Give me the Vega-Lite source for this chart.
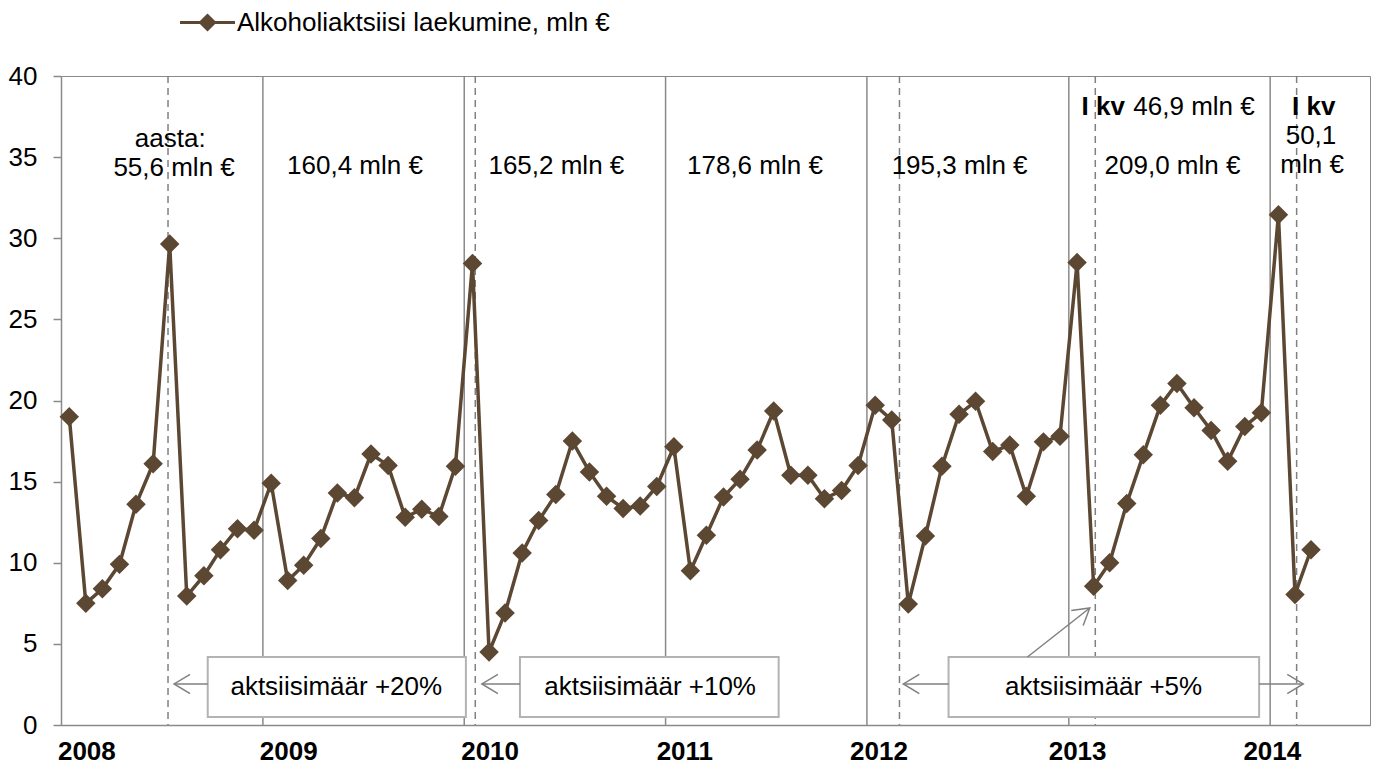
{
  "$schema": "https://vega.github.io/schema/vega-lite/v6.json",
  "width": 1309,
  "height": 649,
  "autosize": {"type": "none"},
  "padding": {"left": 61, "top": 76, "right": 9, "bottom": 49},
  "background": "white",
  "config": {
    "font": "Liberation Sans",
    "view": {"stroke": "#8a8a8a", "strokeWidth": 1},
    "text": {"font": "Liberation Sans", "fontSize": 26, "color": "#000000"}
  },
  "datasets": {
    "series": [
      {"month": "2008-01-16", "value": 19.0},
      {"month": "2008-02-15", "value": 7.5},
      {"month": "2008-03-16", "value": 8.4},
      {"month": "2008-04-16", "value": 9.9},
      {"month": "2008-05-16", "value": 13.6},
      {"month": "2008-06-16", "value": 16.1},
      {"month": "2008-07-16", "value": 29.65},
      {"month": "2008-08-16", "value": 7.95},
      {"month": "2008-09-16", "value": 9.2},
      {"month": "2008-10-16", "value": 10.8},
      {"month": "2008-11-16", "value": 12.1},
      {"month": "2008-12-16", "value": 12.0},
      {"month": "2009-01-16", "value": 14.9},
      {"month": "2009-02-15", "value": 8.9},
      {"month": "2009-03-16", "value": 9.85},
      {"month": "2009-04-16", "value": 11.5},
      {"month": "2009-05-16", "value": 14.3},
      {"month": "2009-06-16", "value": 14.0},
      {"month": "2009-07-16", "value": 16.7},
      {"month": "2009-08-16", "value": 16.0},
      {"month": "2009-09-16", "value": 12.8},
      {"month": "2009-10-16", "value": 13.3},
      {"month": "2009-11-16", "value": 12.85},
      {"month": "2009-12-16", "value": 15.95},
      {"month": "2010-01-16", "value": 28.45},
      {"month": "2010-02-15", "value": 4.5},
      {"month": "2010-03-16", "value": 6.9},
      {"month": "2010-04-16", "value": 10.6},
      {"month": "2010-05-16", "value": 12.6},
      {"month": "2010-06-16", "value": 14.2},
      {"month": "2010-07-16", "value": 17.5},
      {"month": "2010-08-16", "value": 15.6},
      {"month": "2010-09-16", "value": 14.1},
      {"month": "2010-10-16", "value": 13.35},
      {"month": "2010-11-16", "value": 13.5},
      {"month": "2010-12-16", "value": 14.7},
      {"month": "2011-01-16", "value": 17.15},
      {"month": "2011-02-15", "value": 9.5},
      {"month": "2011-03-16", "value": 11.7},
      {"month": "2011-04-16", "value": 14.05},
      {"month": "2011-05-16", "value": 15.15},
      {"month": "2011-06-16", "value": 16.95},
      {"month": "2011-07-16", "value": 19.35},
      {"month": "2011-08-16", "value": 15.4},
      {"month": "2011-09-16", "value": 15.4},
      {"month": "2011-10-16", "value": 13.95},
      {"month": "2011-11-16", "value": 14.45},
      {"month": "2011-12-16", "value": 16.0},
      {"month": "2012-01-16", "value": 19.7},
      {"month": "2012-02-15", "value": 18.8},
      {"month": "2012-03-16", "value": 7.45},
      {"month": "2012-04-16", "value": 11.65},
      {"month": "2012-05-16", "value": 15.95},
      {"month": "2012-06-16", "value": 19.15},
      {"month": "2012-07-16", "value": 19.95},
      {"month": "2012-08-16", "value": 16.85},
      {"month": "2012-09-16", "value": 17.25},
      {"month": "2012-10-16", "value": 14.1},
      {"month": "2012-11-16", "value": 17.45},
      {"month": "2012-12-16", "value": 17.8},
      {"month": "2013-01-16", "value": 28.5},
      {"month": "2013-02-15", "value": 8.55},
      {"month": "2013-03-16", "value": 10.0},
      {"month": "2013-04-16", "value": 13.65},
      {"month": "2013-05-16", "value": 16.65},
      {"month": "2013-06-16", "value": 19.7},
      {"month": "2013-07-16", "value": 21.05},
      {"month": "2013-08-16", "value": 19.55},
      {"month": "2013-09-16", "value": 18.15},
      {"month": "2013-10-16", "value": 16.25},
      {"month": "2013-11-16", "value": 18.4},
      {"month": "2013-12-16", "value": 19.25},
      {"month": "2014-01-16", "value": 31.45},
      {"month": "2014-02-15", "value": 8.05},
      {"month": "2014-03-16", "value": 10.8}
    ],
    "years": [
      {"d": "2009-01-01"}, {"d": "2010-01-01"}, {"d": "2011-01-01"},
      {"d": "2012-01-01"}, {"d": "2013-01-01"}, {"d": "2014-01-01"}
    ],
    "changes": [
      {"d": "2008-07-13"}, {"d": "2010-01-21"}, {"d": "2012-02-29"},
      {"d": "2013-02-18"}, {"d": "2014-02-18"}
    ],
    "boxes": [
      {"start": "2008-09-23", "end": "2010-01-04", "mid": "2009-05-14", "label": "aktsiisimäär +20%"},
      {"start": "2010-04-12", "end": "2011-07-25", "mid": "2010-12-04", "label": "aktsiisimäär +10%"},
      {"start": "2012-05-28", "end": "2013-12-12", "mid": "2013-03-05", "label": "aktsiisimäär +5%"}
    ],
    "arrowsLeft": [
      {"from": "2008-09-23", "to": "2008-07-24"},
      {"from": "2010-04-12", "to": "2010-02-02"},
      {"from": "2012-05-28", "to": "2012-03-07"}
    ],
    "arrowsRight": [
      {"from": "2013-12-12", "to": "2014-03-02"}
    ],
    "arrowsDiag": [
      {"from": "2012-10-18", "to": "2013-02-08", "v1": 4.19, "v2": 7.21}
    ],
    "notes": [
      {"d": "2008-07-17", "v": 35.62, "label": "aasta:"},
      {"d": "2008-07-24", "v": 33.84, "label": "55,6 mln €"},
      {"d": "2009-06-17", "v": 33.96, "label": "160,4 mln €"},
      {"d": "2010-06-17", "v": 33.96, "label": "165,2 mln €"},
      {"d": "2011-06-12", "v": 33.96, "label": "178,6 mln €"},
      {"d": "2012-06-17", "v": 33.96, "label": "195,3 mln €"},
      {"d": "2013-07-08", "v": 33.96, "label": "209,0 mln €"},
      {"d": "2014-03-16", "v": 35.81, "label": "50,1"},
      {"d": "2014-03-18", "v": 34.03, "label": "mln €"}
    ],
    "notesBoldCenter": [
      {"d": "2014-03-21", "v": 37.6, "label": "I kv"}
    ],
    "notesBoldLeft": [
      {"d": "2013-01-24", "v": 37.6, "label": "I kv"}
    ],
    "notesLeft": [
      {"d": "2013-04-28", "v": 37.6, "label": "46,9 mln €"}
    ]
  },
  "encoding": {
    "x": {
      "type": "temporal",
      "scale": {
        "type": "utc",
        "domain": [
          {"year": 2008, "month": 1, "date": 1, "utc": true},
          {"year": 2014, "month": 7, "date": 1, "utc": true}
        ]
      },
      "axis": {
        "title": null,
        "grid": false,
        "ticks": false,
        "domainColor": "#8a8a8a",
        "domainWidth": 1.5,
        "format": "%Y",
        "labelFont": "Liberation Sans",
        "labelFontSize": 26,
        "labelFontWeight": "bold",
        "labelColor": "#000000",
        "labelPadding": 13,
        "labelAlign": "center",
        "labelOverlap": false,
        "values": [
          {"year": 2008, "month": 2, "date": 16, "utc": true},
          {"year": 2009, "month": 2, "date": 16, "utc": true},
          {"year": 2010, "month": 2, "date": 16, "utc": true},
          {"year": 2011, "month": 2, "date": 4, "utc": true},
          {"year": 2012, "month": 1, "date": 22, "utc": true},
          {"year": 2013, "month": 1, "date": 16, "utc": true},
          {"year": 2014, "month": 1, "date": 4, "utc": true}
        ]
      }
    },
    "y": {
      "type": "quantitative",
      "scale": {"domain": [0, 40], "nice": false},
      "axis": {
        "title": null,
        "grid": false,
        "values": [0, 5, 10, 15, 20, 25, 30, 35, 40],
        "tickSize": 8,
        "tickColor": "#8a8a8a",
        "tickWidth": 1.5,
        "domainColor": "#8a8a8a",
        "domainWidth": 1.5,
        "labelFont": "Liberation Sans",
        "labelFontSize": 26,
        "labelColor": "#000000",
        "labelPadding": 16
      }
    }
  },
  "layer": [
    {
      "data": {"name": "years"},
      "mark": {"type": "rule", "color": "#8a8a8a", "strokeWidth": 1.5},
      "encoding": {"x": {"field": "d"}, "y": null}
    },
    {
      "data": {"name": "changes"},
      "mark": {"type": "rule", "color": "#808080", "strokeWidth": 1.5, "strokeDash": [7, 5]},
      "encoding": {"x": {"field": "d"}, "y": null}
    },
    {
      "data": {"name": "boxes"},
      "mark": {"type": "rect", "fill": "white", "stroke": "#b3b3b3", "strokeWidth": 2},
      "encoding": {
        "x": {"field": "start"},
        "x2": {"field": "end"},
        "y": {"datum": 4.19},
        "y2": {"datum": 0.49}
      }
    },
    {
      "data": {"name": "boxes"},
      "mark": {"type": "text", "align": "center", "baseline": "middle", "fontSize": 26},
      "encoding": {
        "x": {"field": "mid"},
        "y": {"datum": 2.34},
        "text": {"field": "label"}
      }
    },
    {
      "data": {"name": "arrowsLeft"},
      "mark": {"type": "rule", "color": "#808080", "strokeWidth": 1.5},
      "encoding": {
        "x": {"field": "from"},
        "x2": {"field": "to"},
        "y": {"datum": 2.53},
        "y2": {"datum": 2.53}
      }
    },
    {
      "data": {"name": "arrowsLeft"},
      "mark": {"type": "point", "shape": "M1,-0.6L0,0L1,0.6", "filled": false, "stroke": "#808080", "strokeWidth": 1.5, "size": 1024, "opacity": 1},
      "encoding": {"x": {"field": "to"}, "y": {"datum": 2.53}}
    },
    {
      "data": {"name": "arrowsRight"},
      "mark": {"type": "rule", "color": "#808080", "strokeWidth": 1.5},
      "encoding": {
        "x": {"field": "from"},
        "x2": {"field": "to"},
        "y": {"datum": 2.53},
        "y2": {"datum": 2.53}
      }
    },
    {
      "data": {"name": "arrowsRight"},
      "mark": {"type": "point", "shape": "M1,-0.6L0,0L1,0.6", "filled": false, "stroke": "#808080", "strokeWidth": 1.5, "size": 1024, "angle": 180, "opacity": 1},
      "encoding": {"x": {"field": "to"}, "y": {"datum": 2.53}}
    },
    {
      "data": {"name": "arrowsDiag"},
      "mark": {"type": "rule", "color": "#808080", "strokeWidth": 1.5},
      "encoding": {
        "x": {"field": "from"},
        "x2": {"field": "to"},
        "y": {"field": "v1", "type": "quantitative"},
        "y2": {"field": "v2"}
      }
    },
    {
      "data": {"name": "arrowsDiag"},
      "mark": {"type": "point", "shape": "M1,-0.6L0,0L1,0.6", "filled": false, "stroke": "#808080", "strokeWidth": 1.5, "size": 1024, "angle": 141.7, "opacity": 1},
      "encoding": {"x": {"field": "to"}, "y": {"field": "v2", "type": "quantitative"}}
    },
    {
      "data": {"name": "notes"},
      "mark": {"type": "text", "align": "center", "baseline": "alphabetic", "fontSize": 26},
      "encoding": {
        "x": {"field": "d"},
        "y": {"field": "v", "type": "quantitative"},
        "text": {"field": "label"}
      }
    },
    {
      "data": {"name": "notesBoldCenter"},
      "mark": {"type": "text", "align": "center", "baseline": "alphabetic", "fontSize": 26, "fontWeight": "bold"},
      "encoding": {
        "x": {"field": "d"},
        "y": {"field": "v", "type": "quantitative"},
        "text": {"field": "label"}
      }
    },
    {
      "data": {"name": "notesBoldLeft"},
      "mark": {"type": "text", "align": "left", "baseline": "alphabetic", "fontSize": 26, "fontWeight": "bold"},
      "encoding": {
        "x": {"field": "d"},
        "y": {"field": "v", "type": "quantitative"},
        "text": {"field": "label"}
      }
    },
    {
      "data": {"name": "notesLeft"},
      "mark": {"type": "text", "align": "left", "baseline": "alphabetic", "fontSize": 26},
      "encoding": {
        "x": {"field": "d"},
        "y": {"field": "v", "type": "quantitative"},
        "text": {"field": "label"}
      }
    },
    {
      "data": {"name": "series"},
      "mark": {"type": "line", "color": "#5C4733", "strokeWidth": 3.5},
      "encoding": {
        "x": {"field": "month"},
        "y": {"field": "value"}
      }
    },
    {
      "data": {"name": "series"},
      "mark": {"type": "point", "shape": "diamond", "filled": true, "size": 380, "opacity": 1},
      "encoding": {
        "x": {"field": "month"},
        "y": {"field": "value"},
        "color": {
          "datum": "Alkoholiaktsiisi laekumine, mln €",
          "type": "nominal",
          "scale": {"range": ["#5C4733"]},
          "legend": {
            "title": null,
            "orient": "none",
            "legendX": 119,
            "legendY": -81,
            "padding": 0,
            "symbolType": "M-1,-0.055L-0.275,-0.055L0,-0.33L0.275,-0.055L1,-0.055L1,0.055L0.275,0.055L0,0.33L-0.275,0.055L-1,0.055Z",
            "symbolSize": 3025,
            "symbolStrokeWidth": 0,
            "symbolOpacity": 1,
            "labelFont": "Liberation Sans",
            "labelFontSize": 26,
            "labelColor": "#000000",
            "labelLimit": 700,
            "labelOffset": 2
          }
        }
      }
    }
  ]
}
